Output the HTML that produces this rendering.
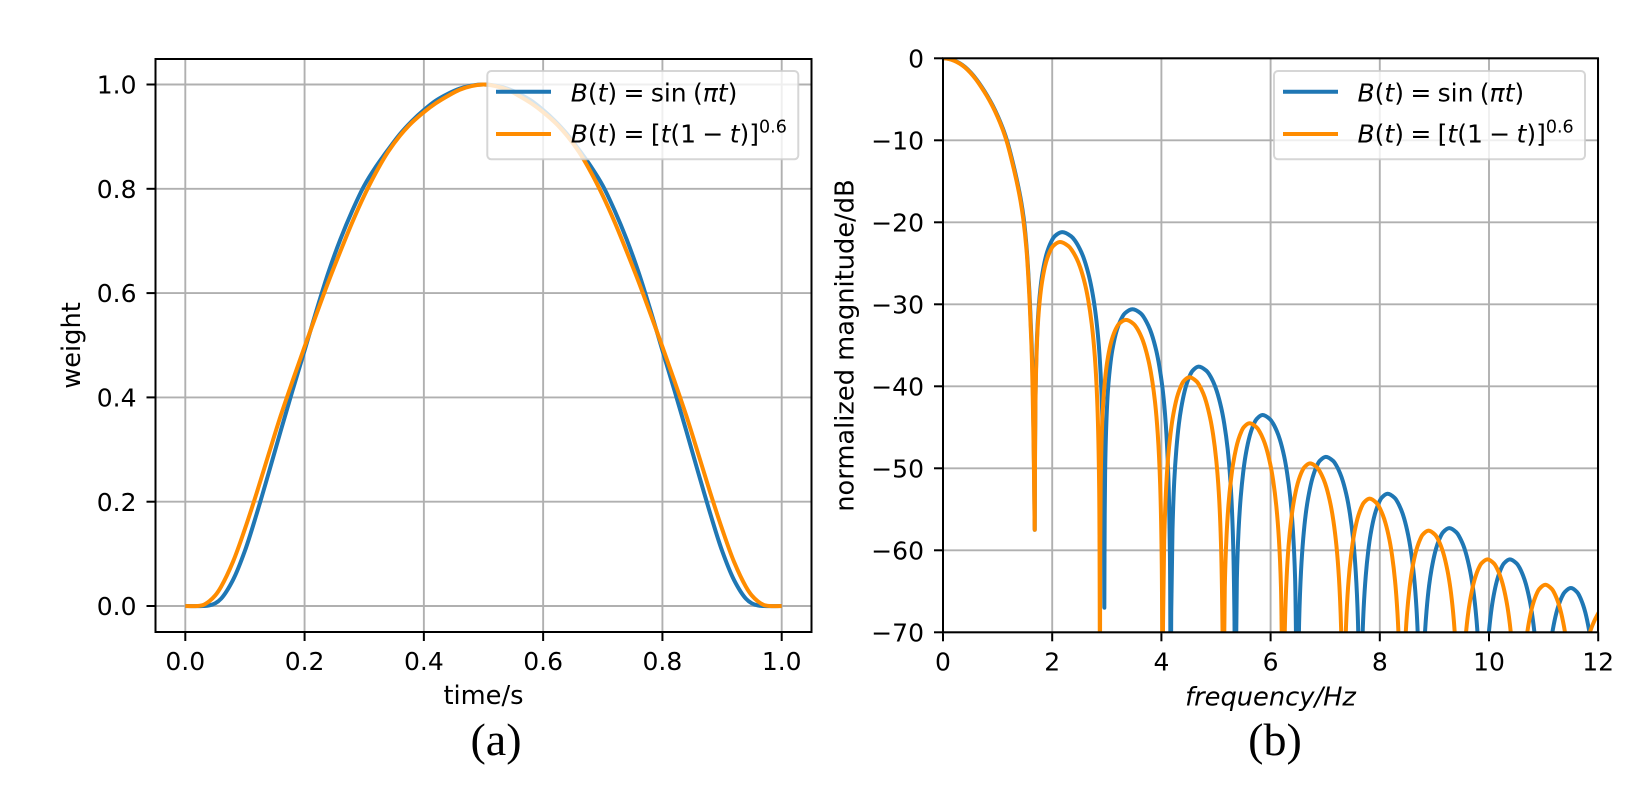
<!DOCTYPE html>
<html lang="en">
<head>
<meta charset="utf-8">
<title>Weight functions and spectra</title>
<style>
html,body{margin:0;padding:0;background:#fff;width:1640px;height:786px;overflow:hidden}
svg{display:block}
text{font-family:"DejaVu Sans","Liberation Sans",sans-serif;fill:#000}
.it{font-style:italic}
.cap{font-family:"Liberation Serif",serif;font-size:46px}
.leg{font-size:25px;word-spacing:-1.6px}
</style>
</head>
<body>
<svg id="figure" xmlns="http://www.w3.org/2000/svg" width="1640" height="786" viewBox="0 0 1640 786">
<defs>
<clipPath id="clip-a"><rect x="155.5" y="59" width="656" height="573"/></clipPath>
<clipPath id="clip-b"><rect x="943" y="58.3" width="655" height="574"/></clipPath>
</defs>
<g id="panel-a"></g>
<g id="panel-b"></g>

<g>
<rect x="487.3" y="71" width="311" height="88.3" rx="4" fill="#fff" fill-opacity="0.8" stroke="#ccc" stroke-opacity="0.8" stroke-width="2"/>
<line x1="496" x2="551" y1="91.7" y2="91.7" stroke="#1f77b4" stroke-width="4"/>
<line x1="496" x2="551" y1="134" y2="134" stroke="#ff8c00" stroke-width="4"/>
<text class="leg" x="570.7" y="101.7"><tspan class="it">B</tspan>(<tspan class="it">t</tspan>) = sin (<tspan class="it">π</tspan><tspan class="it">t</tspan>)</text>
<text class="leg" x="570.7" y="142.7"><tspan class="it">B</tspan>(<tspan class="it">t</tspan>) = [<tspan class="it">t</tspan>(1 − <tspan class="it">t</tspan>)]<tspan font-size="17.5" dy="-10">0.6</tspan></text>
</g>

<g>
<rect x="1274" y="71" width="311" height="88.3" rx="4" fill="#fff" fill-opacity="0.8" stroke="#ccc" stroke-opacity="0.8" stroke-width="2"/>
<line x1="1283" x2="1338" y1="91.7" y2="91.7" stroke="#1f77b4" stroke-width="4"/>
<line x1="1283" x2="1338" y1="134" y2="134" stroke="#ff8c00" stroke-width="4"/>
<text class="leg" x="1357.5" y="101.7"><tspan class="it">B</tspan>(<tspan class="it">t</tspan>) = sin (<tspan class="it">π</tspan><tspan class="it">t</tspan>)</text>
<text class="leg" x="1357.5" y="142.7"><tspan class="it">B</tspan>(<tspan class="it">t</tspan>) = [<tspan class="it">t</tspan>(1 − <tspan class="it">t</tspan>)]<tspan font-size="17.5" dy="-10">0.6</tspan></text>
</g>

<text x="483.5" y="704" font-size="25.7" text-anchor="middle">time/s</text>
<text transform="translate(80,345.5) rotate(-90)" font-size="25.7" text-anchor="middle">weight</text>
<text x="1270.5" y="705.5" font-size="25.7" text-anchor="middle" class="it">frequency/Hz</text>
<text transform="translate(853.5,345.5) rotate(-90)" font-size="25.7" text-anchor="middle">normalized magnitude/dB</text>
<text class="cap" x="496" y="755" text-anchor="middle">(a)</text>
<text class="cap" x="1275" y="755" text-anchor="middle">(b)</text>
</svg>

<script>
// ---- Panel (a): window weight over time ----
const timeTicks = [0, 0.2, 0.4, 0.6, 0.8, 1.0];
const timeTickLabels = ["0.0", "0.2", "0.4", "0.6", "0.8", "1.0"];
const weightTicks = [0, 0.2, 0.4, 0.6, 0.8, 1.0];
const weightTickLabels = ["0.0", "0.2", "0.4", "0.6", "0.8", "1.0"];

const sineTime = [0,0.03,0.04,0.05,0.06,0.08,0.10,0.12,0.14,0.16,0.18,0.20,0.22,0.24,0.26,0.28,0.30,0.32,0.34,0.36,0.38,0.40,0.42,0.44,0.46,0.48,0.50,0.52,0.54,0.56,0.58,0.60,0.62,0.64,0.66,0.68,0.70,0.72,0.74,0.76,0.78,0.80,0.82,0.84,0.86,0.88,0.90,0.92,0.94,0.95,0.96,0.97,1];
const sineWeight = [0,0,0.001,0.005,0.014,0.05,0.106,0.178,0.256,0.336,0.414,0.49,0.567,0.64,0.703,0.758,0.806,0.843,0.875,0.905,0.93,0.951,0.969,0.982,0.992,0.998,1,0.998,0.992,0.982,0.969,0.951,0.93,0.905,0.875,0.843,0.806,0.758,0.703,0.64,0.567,0.49,0.414,0.336,0.256,0.178,0.106,0.05,0.014,0.005,0.001,0,0];

const powerTime = [0,0.02,0.03,0.04,0.05,0.06,0.08,0.10,0.12,0.14,0.16,0.18,0.20,0.22,0.24,0.26,0.28,0.30,0.32,0.34,0.36,0.38,0.40,0.42,0.44,0.46,0.48,0.50,0.52,0.54,0.56,0.58,0.60,0.62,0.64,0.66,0.68,0.70,0.72,0.74,0.76,0.78,0.80,0.82,0.84,0.86,0.88,0.90,0.92,0.94,0.95,0.96,0.97,0.98,1];
const powerWeight = [0,0,0.002,0.009,0.02,0.037,0.085,0.148,0.218,0.292,0.365,0.432,0.497,0.56,0.622,0.68,0.736,0.787,0.832,0.871,0.902,0.927,0.947,0.964,0.978,0.99,0.997,1,0.997,0.99,0.978,0.964,0.947,0.927,0.902,0.871,0.832,0.787,0.736,0.68,0.622,0.56,0.497,0.432,0.365,0.292,0.218,0.148,0.085,0.037,0.02,0.009,0.002,0,0];

// ---- Panel (b): normalized magnitude spectrum ----
const freqTicks = [0, 2, 4, 6, 8, 10, 12];
const freqTickLabels = ["0", "2", "4", "6", "8", "10", "12"];
const magTicks = [0, -10, -20, -30, -40, -50, -60, -70];
const magTickLabels = ["0", "−10", "−20", "−30", "−40", "−50", "−60", "−70"];

const sineFreq = [
0.01,0.11,0.21,0.31,0.41,0.51,0.61,0.71,0.81,0.91,1.01,1.11,1.18,1.26,1.355,1.43,1.48,1.535,1.59,1.625,1.645,1.668,1.68,
1.683,1.694,1.715,1.744,1.782,1.822,1.883,1.929,1.995,2.046,2.18,2.346,2.413,2.502,2.568,2.66,2.726,2.796,2.856,2.905,2.94,2.955,
2.958,2.969,2.991,3.02,3.06,3.101,3.164,3.211,3.279,3.331,3.47,3.62,3.68,3.761,3.82,3.904,3.963,4.027,4.08,4.125,4.156,4.17,
4.18,4.203,4.235,4.275,4.32,4.364,4.425,4.468,4.527,4.571,4.68,4.823,4.881,4.959,5.015,5.095,5.152,5.213,5.264,5.307,5.337,5.35,
5.382,5.414,5.453,5.498,5.54,5.6,5.642,5.7,5.743,5.85,5.987,6.042,6.116,6.17,6.247,6.301,6.359,6.408,6.449,6.49,
6.523,6.557,6.597,6.643,6.688,6.75,6.794,6.854,6.899,7.01,7.145,7.199,7.272,7.325,7.401,7.454,7.511,7.559,7.6,7.64,
7.672,7.704,7.743,7.788,7.83,7.89,7.932,7.99,8.033,8.14,8.271,8.323,8.394,8.445,8.518,8.57,8.625,8.672,8.711,8.75,
8.817,8.857,8.903,8.948,9.01,9.054,9.114,9.159,9.27,9.401,9.453,9.524,9.575,9.648,9.7,9.755,9.802,9.88,
9.944,9.983,10.028,10.07,10.13,10.172,10.23,10.273,10.38,10.506,10.557,10.625,10.675,10.746,10.796,10.849,10.894,10.97,
11.079,11.126,11.171,11.235,11.28,11.341,11.387,11.5,11.613,11.659,11.72,11.765,11.829,11.874,11.921,12.03
];
const sineMag = [
0,-0.07,-0.28,-0.62,-1.1,-1.75,-2.55,-3.5,-4.55,-5.75,-7.15,-8.8,-10.2,-12.2,-14.9,-17.4,-19.6,-23.4,-29.5,-35,-40,-50,-57.5,
-51.2,-41.2,-35.2,-31.2,-28.2,-26.2,-24.2,-23.2,-22.2,-21.7,-21.2,-21.7,-22.2,-23.2,-24.2,-26.2,-28.2,-31.2,-35.2,-41.2,-51.2,-67,
-60.6,-50.6,-44.6,-40.6,-37.6,-35.6,-33.6,-32.6,-31.6,-31.1,-30.6,-31.1,-31.6,-32.6,-33.6,-35.6,-37.6,-40.6,-44.6,-50.6,-60.6,-85,
-67.6,-57.6,-51.6,-47.6,-44.6,-42.6,-40.6,-39.6,-38.6,-38.1,-37.6,-38.1,-38.6,-39.6,-40.6,-42.6,-44.6,-47.6,-51.6,-57.6,-67.6,-85,
-63.5,-57.5,-53.5,-50.5,-48.5,-46.5,-45.5,-44.5,-44,-43.5,-44,-44.5,-45.5,-46.5,-48.5,-50.5,-53.5,-57.5,-63.5,-85,
-68.6,-62.6,-58.6,-55.6,-53.6,-51.6,-50.6,-49.6,-49.1,-48.6,-49.1,-49.6,-50.6,-51.6,-53.6,-55.6,-58.6,-62.6,-68.6,-85,
-73.1,-67.1,-63.1,-60.1,-58.1,-56.1,-55.1,-54.1,-53.6,-53.1,-53.6,-54.1,-55.1,-56.1,-58.1,-60.1,-63.1,-67.1,-73.1,-85,
-71.3,-67.3,-64.3,-62.3,-60.3,-59.3,-58.3,-57.8,-57.3,-57.8,-58.3,-59.3,-60.3,-62.3,-64.3,-67.3,-71.3,-85,
-75.1,-71.1,-68.1,-66.1,-64.1,-63.1,-62.1,-61.6,-61.1,-61.6,-62.1,-63.1,-64.1,-66.1,-68.1,-71.1,-75.1,-85,
-74.6,-71.6,-69.6,-67.6,-66.6,-65.6,-65.1,-64.6,-65.1,-65.6,-66.6,-67.6,-69.6,-71.6,-74.6,-85
];

const powerFreq = [
0,0.1,0.2,0.3,0.4,0.5,0.6,0.7,0.8,0.9,1.0,1.1,1.17,1.25,1.345,1.42,1.47,1.53,1.585,1.62,1.64,1.665,1.68,
1.683,1.693,1.712,1.738,1.774,1.811,1.867,1.909,1.969,2.016,2.14,2.297,2.36,2.446,2.508,2.596,2.658,2.724,2.781,2.828,2.86,2.875,
2.878,2.888,2.908,2.935,2.972,3.01,3.068,3.111,3.174,3.222,3.35,3.493,3.551,3.629,3.685,3.765,3.822,3.883,3.934,3.977,4.007,4.02,
4.03,4.051,4.083,4.12,4.165,4.206,4.265,4.306,4.363,4.405,4.51,4.643,4.696,4.768,4.82,4.894,4.947,5.003,5.051,5.09,5.118,5.13,
5.161,5.191,5.228,5.272,5.312,5.37,5.41,5.466,5.507,5.61,5.743,5.796,5.868,5.92,5.994,6.047,6.103,6.151,6.19,6.23,
6.261,6.293,6.33,6.375,6.416,6.475,6.516,6.573,6.615,6.72,6.851,6.903,6.974,7.025,7.098,7.15,7.205,7.252,7.291,7.33,
7.361,7.391,7.428,7.472,7.512,7.57,7.61,7.666,7.707,7.81,7.936,7.987,8.055,8.105,8.176,8.226,8.279,8.324,8.362,8.4,
8.463,8.5,8.545,8.586,8.645,8.686,8.743,8.785,8.89,9.012,9.061,9.127,9.175,9.243,9.292,9.343,9.387,9.46,
9.525,9.565,9.61,9.654,9.715,9.758,9.817,9.861,9.97,10.09,10.138,10.203,10.25,10.317,10.365,10.415,10.458,10.53,
10.633,10.678,10.72,10.78,10.822,10.88,10.923,11.03,11.148,11.195,11.259,11.305,11.371,11.418,11.467,11.58,
11.72,11.85,11.93,12,12.05
];
const powerMag = [
0,-0.07,-0.28,-0.62,-1.1,-1.75,-2.55,-3.5,-4.55,-5.75,-7.15,-8.8,-10.2,-12.2,-14.9,-17.4,-19.6,-23.4,-29.5,-35,-40,-50,-57.5,
-52.4,-42.4,-36.4,-32.4,-29.4,-27.4,-25.4,-24.4,-23.4,-22.9,-22.4,-22.9,-23.4,-24.4,-25.4,-27.4,-29.4,-32.4,-36.4,-42.4,-52.4,-85,
-61.9,-51.9,-45.9,-41.9,-38.9,-36.9,-34.9,-33.9,-32.9,-32.4,-31.9,-32.4,-32.9,-33.9,-34.9,-36.9,-38.9,-41.9,-45.9,-51.9,-61.9,-85,
-68.9,-58.9,-52.9,-48.9,-45.9,-43.9,-41.9,-40.9,-39.9,-39.4,-38.9,-39.4,-39.9,-40.9,-41.9,-43.9,-45.9,-48.9,-52.9,-58.9,-68.9,-85,
-64.5,-58.5,-54.5,-51.5,-49.5,-47.5,-46.5,-45.5,-45,-44.5,-45,-45.5,-46.5,-47.5,-49.5,-51.5,-54.5,-58.5,-64.5,-85,
-69.4,-63.4,-59.4,-56.4,-54.4,-52.4,-51.4,-50.4,-49.9,-49.4,-49.9,-50.4,-51.4,-52.4,-54.4,-56.4,-59.4,-63.4,-69.4,-85,
-73.7,-67.7,-63.7,-60.7,-58.7,-56.7,-55.7,-54.7,-54.2,-53.7,-54.2,-54.7,-55.7,-56.7,-58.7,-60.7,-63.7,-67.7,-73.7,-85,
-71.6,-67.6,-64.6,-62.6,-60.6,-59.6,-58.6,-58.1,-57.6,-58.1,-58.6,-59.6,-60.6,-62.6,-64.6,-67.6,-71.6,-85,
-75.1,-71.1,-68.1,-66.1,-64.1,-63.1,-62.1,-61.6,-61.1,-61.6,-62.1,-63.1,-64.1,-66.1,-68.1,-71.1,-75.1,-85,
-74.2,-71.2,-69.2,-67.2,-66.2,-65.2,-64.7,-64.2,-64.7,-65.2,-66.2,-67.2,-69.2,-71.2,-74.2,-85,
-75,-70,-68.6,-67.7,-67.1
];

// ---- axis functions ----
function xTime(v){ return 185.3 + v * 596.4; }
function yWeight(v){ return 606 - v * 521.5; }
function xFreq(v){ return 943 + v * 54.6; }
function yMag(v){ return 58.3 - v * 8.2; }

const NS = "http://www.w3.org/2000/svg";
function node(parent, tag){
  const el = document.createElementNS(NS, tag);
  parent.appendChild(el);
  return el;
}
// Centripetal Catmull-Rom through the mapped data points.
function curvePath(xs, ys, fx, fy){
  const pts = [];
  const n = Math.min(xs.length, ys.length);
  for (let i = 0; i < n; i++) pts.push([fx(xs[i]), fy(ys[i])]);
  function dist(a, b){ return Math.sqrt(Math.hypot(a[0] - b[0], a[1] - b[1])); }
  let d = "M" + pts[0][0].toFixed(2) + " " + pts[0][1].toFixed(2);
  for (let i = 0; i < pts.length - 1; i++){
    const p0 = pts[Math.max(i - 1, 0)], p1 = pts[i], p2 = pts[i + 1], p3 = pts[Math.min(i + 2, pts.length - 1)];
    const a = dist(p0, p1), b = dist(p1, p2), c = dist(p2, p3);
    let c1 = p1, c2 = p2;
    if (a > 0 && b > 0){
      const den = 3 * a * (a + b), k = 2 * a * a + 3 * a * b + b * b;
      c1 = [(a * a * p2[0] - b * b * p0[0] + k * p1[0]) / den, (a * a * p2[1] - b * b * p0[1] + k * p1[1]) / den];
    }
    if (c > 0 && b > 0){
      const den = 3 * c * (c + b), k = 2 * c * c + 3 * c * b + b * b;
      c2 = [(c * c * p1[0] - b * b * p3[0] + k * p2[0]) / den, (c * c * p1[1] - b * b * p3[1] + k * p2[1]) / den];
    }
    d += "C" + c1[0].toFixed(2) + " " + c1[1].toFixed(2) + " " + c2[0].toFixed(2) + " " + c2[1].toFixed(2) + " " + p2[0].toFixed(2) + " " + p2[1].toFixed(2);
  }
  return d;
}

function drawAxes(g, cfg){
  const L = cfg.left, R = cfg.right, T = cfg.top, B = cfg.bottom;
  cfg.xTicks.forEach(function(v, i){
    const x = cfg.fx(v);
    const grid = node(g, "line");
    
    
    grid.setAttribute("x1", x); grid.setAttribute("x2", x);
    grid.setAttribute("y1", T); grid.setAttribute("y2", B);
    grid.setAttribute("stroke", "#b0b0b0"); grid.setAttribute("stroke-width", "1.9");
    const tick = node(g, "line");
    
    
    tick.setAttribute("x1", x); tick.setAttribute("x2", x);
    tick.setAttribute("y1", B); tick.setAttribute("y2", B + 9);
    tick.setAttribute("stroke", "#000"); tick.setAttribute("stroke-width", "2");
    const label = node(g, "text");
    
    
    label.setAttribute("x", x); label.setAttribute("y", B + 38);
    label.setAttribute("font-size", "25"); label.setAttribute("text-anchor", "middle");
    label.textContent = cfg.xLabels[i];
  });
  cfg.yTicks.forEach(function(v, i){
    const y = cfg.fy(v);
    const grid = node(g, "line");
    
    
    grid.setAttribute("x1", L); grid.setAttribute("x2", R);
    grid.setAttribute("y1", y); grid.setAttribute("y2", y);
    grid.setAttribute("stroke", "#b0b0b0"); grid.setAttribute("stroke-width", "1.9");
    const tick = node(g, "line");
    
    
    tick.setAttribute("x1", L - 9); tick.setAttribute("x2", L);
    tick.setAttribute("y1", y); tick.setAttribute("y2", y);
    tick.setAttribute("stroke", "#000"); tick.setAttribute("stroke-width", "2");
    const label = node(g, "text");
    
    
    label.setAttribute("x", L - 19); label.setAttribute("y", y + 9.1);
    label.setAttribute("font-size", "25"); label.setAttribute("text-anchor", "end");
    label.textContent = cfg.yLabels[i];
  });
  cfg.series.forEach(function(s){
    const path = node(g, "path");
    
    
    path.setAttribute("d", curvePath(s.xs, s.ys, cfg.fx, cfg.fy));
    path.setAttribute("fill", "none");
    path.setAttribute("stroke", s.color);
    path.setAttribute("stroke-width", "4");
    path.setAttribute("stroke-linejoin", "round");
    path.setAttribute("clip-path", "url(#" + cfg.clip + ")");
  });
  const frame = node(g, "rect");
  
  
  frame.setAttribute("x", L); frame.setAttribute("y", T);
  frame.setAttribute("width", R - L); frame.setAttribute("height", B - T);
  frame.setAttribute("fill", "none"); frame.setAttribute("stroke", "#000"); frame.setAttribute("stroke-width", "2");
}

drawAxes(document.getElementById("panel-a"), {
  left: 155.5, right: 811.5, top: 59, bottom: 632, clip: "clip-a",
  fx: xTime, fy: yWeight,
  xTicks: timeTicks, xLabels: timeTickLabels,
  yTicks: weightTicks, yLabels: weightTickLabels,
  series: [
    {name: "weight-line-sine", xs: sineTime, ys: sineWeight, color: "#1f77b4"},
    {name: "weight-line-power", xs: powerTime, ys: powerWeight, color: "#ff8c00"}
  ]
});
drawAxes(document.getElementById("panel-b"), {
  left: 943, right: 1598, top: 58.3, bottom: 632.3, clip: "clip-b",
  fx: xFreq, fy: yMag,
  xTicks: freqTicks, xLabels: freqTickLabels,
  yTicks: magTicks, yLabels: magTickLabels,
  series: [
    {name: "spectrum-line-sine", xs: sineFreq, ys: sineMag, color: "#1f77b4"},
    {name: "spectrum-line-power", xs: powerFreq, ys: powerMag, color: "#ff8c00"}
  ]
});
</script>
</body>
</html>
